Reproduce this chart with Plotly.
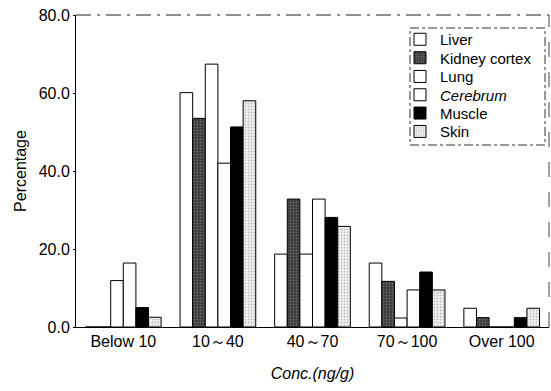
import plotly.graph_objects as go

categories = ["Below 10", "10～40", "40～70", "70～100", "Over 100"]
liver = [0, 60.1, 18.7, 16.4, 4.8]
kidney_cortex = [0, 53.5, 32.8, 11.7, 2.4]
lung = [11.9, 67.4, 18.7, 2.3, 0]
cerebrum = [16.4, 42.0, 32.8, 9.5, 0]
muscle = [5.0, 51.3, 28.1, 14.1, 2.4]
skin = [2.5, 58.0, 25.8, 9.5, 4.8]
y_ticks = [0, 20, 40, 60, 80]
y_tick_labels = ["0.0", "20.0", "40.0", "60.0", "80.0"]

FONT = "Liberation Sans, Arial, sans-serif"

series = [
    ("Liver", liver, dict(color="white")),
    ("Kidney cortex", kidney_cortex, dict(color="#3a3a3a",
        pattern=dict(shape=".", fgcolor="#9a9a9a", bgcolor="#3a3a3a", size=3, solidity=0.3))),
    ("Lung", lung, dict(color="white")),
    ("<i>Cerebrum</i>", cerebrum, dict(color="white")),
    ("Muscle", muscle, dict(color="black")),
    ("Skin", skin, dict(color="#eeeeee",
        pattern=dict(shape=".", fgcolor="#8a8a8a", bgcolor="#f2f2f2", size=3, solidity=0.3))),
]

PL, PR, PT, PB = 76, 549, 15, 327
PW, PH = PR - PL, PB - PT

legend_rows_px = [39.5, 58, 76.7, 95, 113.3, 131.7]

fig = go.Figure()
legend_layouts = {}
for i, (name, vals, mk) in enumerate(series):
    mk = dict(mk)
    mk["line"] = dict(color="black", width=1)
    lname = "legend" if i == 0 else f"legend{i + 1}"
    fig.add_trace(go.Bar(x=categories, y=vals, name=name, marker=mk, legend=lname))
    legend_layouts[lname] = dict(
        x=(400 - PL) / PW, y=(PB - legend_rows_px[i]) / PH,
        xanchor="left", yanchor="middle",
        bgcolor="rgba(0,0,0,0)", borderwidth=0,
        font=dict(family=FONT, size=15, color="black"),
        itemwidth=30, tracegroupgap=0,
    )

fig.update_layout(
    width=551, height=391,
    margin=dict(l=PL, r=551 - PR, t=PT, b=391 - PB, autoexpand=False),
    paper_bgcolor="white", plot_bgcolor="white",
    barmode="group", bargap=0.2, bargroupgap=0,
    font=dict(family=FONT, size=16, color="black"),
    showlegend=True,
    xaxis=dict(
        automargin=False,
        showline=True, linecolor="black", linewidth=1,
        ticks="", showgrid=False, zeroline=False,
        tickfont=dict(family=FONT, size=16),
        title=dict(text="<i>Conc.(ng/g)</i>", font=dict(family=FONT, size=16), standoff=18),
    ),
    yaxis=dict(
        automargin=False,
        range=[0, 80], tickvals=y_ticks, ticktext=y_tick_labels,
        showline=True, linecolor="black", linewidth=1,
        ticks="outside", ticklen=2, tickcolor="black",
        showgrid=False, zeroline=False,
        tickfont=dict(family=FONT, size=16),
        title=dict(text="Percentage", font=dict(family=FONT, size=16), standoff=8),
    ),
    shapes=[
        dict(type="line", xref="paper", yref="paper", x0=0, x1=1, y0=1, y1=1,
             line=dict(color="#222", width=1, dash="longdashdot")),
        dict(type="line", xref="paper", yref="paper", x0=1, x1=1, y0=0, y1=1,
             line=dict(color="#444", width=1, dash="longdash")),
        dict(type="rect", xref="paper", yref="paper",
             x0=(410 - PL) / PW, x1=(545 - PL) / PW,
             y0=(PB - 145) / PH, y1=(PB - 28) / PH,
             line=dict(color="#333", width=1, dash="dashdot")),
    ],
)
fig.update_layout(**legend_layouts)

fig.write_html("out.html", config={"displayModeBar": False},
               post_script="document.body.style.margin='0';")
